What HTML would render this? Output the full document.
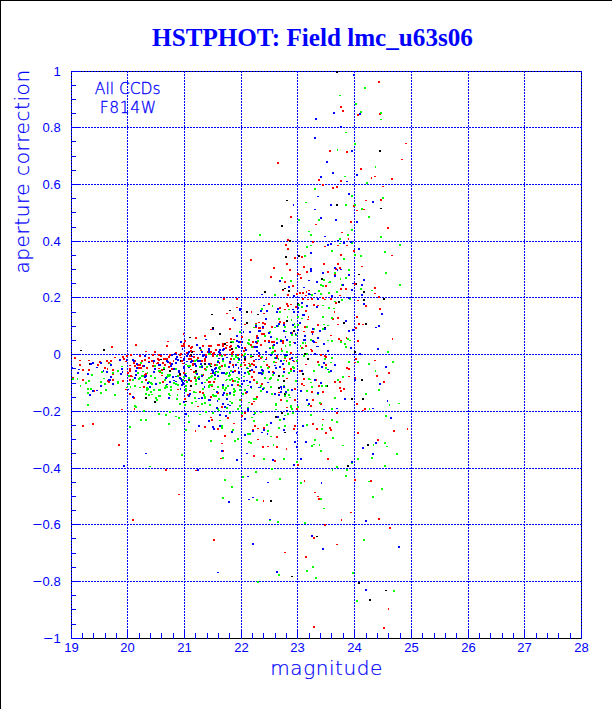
<!DOCTYPE html>
<html><head><meta charset="utf-8"><title>HSTPHOT: Field lmc_u63s06</title>
<style>
html,body{margin:0;padding:0;background:#fff;}
body{width:612px;height:709px;overflow:hidden;position:relative;}
svg{position:absolute;left:0;top:0;display:block;}
.t{font-family:"Liberation Serif",serif;font-weight:bold;fill:#0000ff;}
.s{font-family:"Liberation Sans",sans-serif;fill:#0000ff;}
.l{font-family:"DejaVu Sans Light","DejaVu Sans","Liberation Sans",sans-serif;font-weight:200;fill:#0000ff;}
.k{fill:#000}.r{fill:#f00}.g{fill:#0f0}.b{fill:#00f}
</style></head><body>
<svg width="612" height="709" viewBox="0 0 612 709">
<rect x="0" y="0" width="612" height="709" fill="#fff"/>

<g shape-rendering="crispEdges">
<rect x="0" y="0" width="612" height="1" fill="#000"/><rect x="0" y="0" width="1" height="709" fill="#000"/>
<rect x="71" y="71" width="511" height="1" fill="#000"/>
<rect x="71" y="638" width="511" height="1" fill="#000"/>
<rect x="71" y="71" width="1" height="568" fill="#000"/>
<rect x="581" y="71" width="1" height="568" fill="#000"/>
<line x1="71.5" y1="71" x2="71.5" y2="638" stroke="#00f" stroke-width="1" stroke-dasharray="2 1"/>
<line x1="127.5" y1="71" x2="127.5" y2="638" stroke="#00f" stroke-width="1" stroke-dasharray="2 1"/>
<line x1="184.5" y1="71" x2="184.5" y2="638" stroke="#00f" stroke-width="1" stroke-dasharray="2 1"/>
<line x1="241.5" y1="71" x2="241.5" y2="638" stroke="#00f" stroke-width="1" stroke-dasharray="2 1"/>
<line x1="297.5" y1="71" x2="297.5" y2="638" stroke="#00f" stroke-width="1" stroke-dasharray="2 1"/>
<line x1="354.5" y1="71" x2="354.5" y2="638" stroke="#00f" stroke-width="1" stroke-dasharray="2 1"/>
<line x1="411.5" y1="71" x2="411.5" y2="638" stroke="#00f" stroke-width="1" stroke-dasharray="2 1"/>
<line x1="468.5" y1="71" x2="468.5" y2="638" stroke="#00f" stroke-width="1" stroke-dasharray="2 1"/>
<line x1="524.5" y1="71" x2="524.5" y2="638" stroke="#00f" stroke-width="1" stroke-dasharray="2 1"/>
<line x1="581.5" y1="71" x2="581.5" y2="638" stroke="#00f" stroke-width="1" stroke-dasharray="2 1"/>
<line x1="71" y1="71.5" x2="582" y2="71.5" stroke="#00f" stroke-width="1" stroke-dasharray="2 1" stroke-dashoffset="1"/>
<line x1="71" y1="127.5" x2="582" y2="127.5" stroke="#00f" stroke-width="1" stroke-dasharray="2 1" stroke-dashoffset="1"/>
<line x1="71" y1="184.5" x2="582" y2="184.5" stroke="#00f" stroke-width="1" stroke-dasharray="2 1" stroke-dashoffset="1"/>
<line x1="71" y1="241.5" x2="582" y2="241.5" stroke="#00f" stroke-width="1" stroke-dasharray="2 1" stroke-dashoffset="1"/>
<line x1="71" y1="297.5" x2="582" y2="297.5" stroke="#00f" stroke-width="1" stroke-dasharray="2 1" stroke-dashoffset="1"/>
<line x1="71" y1="354.5" x2="582" y2="354.5" stroke="#00f" stroke-width="1" stroke-dasharray="2 1" stroke-dashoffset="1"/>
<line x1="71" y1="411.5" x2="582" y2="411.5" stroke="#00f" stroke-width="1" stroke-dasharray="2 1" stroke-dashoffset="1"/>
<line x1="71" y1="468.5" x2="582" y2="468.5" stroke="#00f" stroke-width="1" stroke-dasharray="2 1" stroke-dashoffset="1"/>
<line x1="71" y1="524.5" x2="582" y2="524.5" stroke="#00f" stroke-width="1" stroke-dasharray="2 1" stroke-dashoffset="1"/>
<line x1="71" y1="581.5" x2="582" y2="581.5" stroke="#00f" stroke-width="1" stroke-dasharray="2 1" stroke-dashoffset="1"/>
<rect x="71" y="629" width="1" height="10" fill="#00f"/>
<rect x="82" y="633" width="1" height="6" fill="#00f"/>
<rect x="93" y="633" width="1" height="6" fill="#00f"/>
<rect x="105" y="633" width="1" height="6" fill="#00f"/>
<rect x="116" y="633" width="1" height="6" fill="#00f"/>
<rect x="127" y="629" width="1" height="10" fill="#00f"/>
<rect x="139" y="633" width="1" height="6" fill="#00f"/>
<rect x="150" y="633" width="1" height="6" fill="#00f"/>
<rect x="161" y="633" width="1" height="6" fill="#00f"/>
<rect x="173" y="633" width="1" height="6" fill="#00f"/>
<rect x="184" y="629" width="1" height="10" fill="#00f"/>
<rect x="195" y="633" width="1" height="6" fill="#00f"/>
<rect x="207" y="633" width="1" height="6" fill="#00f"/>
<rect x="218" y="633" width="1" height="6" fill="#00f"/>
<rect x="229" y="633" width="1" height="6" fill="#00f"/>
<rect x="241" y="629" width="1" height="10" fill="#00f"/>
<rect x="252" y="633" width="1" height="6" fill="#00f"/>
<rect x="263" y="633" width="1" height="6" fill="#00f"/>
<rect x="275" y="633" width="1" height="6" fill="#00f"/>
<rect x="286" y="633" width="1" height="6" fill="#00f"/>
<rect x="297" y="629" width="1" height="10" fill="#00f"/>
<rect x="309" y="633" width="1" height="6" fill="#00f"/>
<rect x="320" y="633" width="1" height="6" fill="#00f"/>
<rect x="331" y="633" width="1" height="6" fill="#00f"/>
<rect x="343" y="633" width="1" height="6" fill="#00f"/>
<rect x="354" y="629" width="1" height="10" fill="#00f"/>
<rect x="366" y="633" width="1" height="6" fill="#00f"/>
<rect x="377" y="633" width="1" height="6" fill="#00f"/>
<rect x="388" y="633" width="1" height="6" fill="#00f"/>
<rect x="400" y="633" width="1" height="6" fill="#00f"/>
<rect x="411" y="629" width="1" height="10" fill="#00f"/>
<rect x="422" y="633" width="1" height="6" fill="#00f"/>
<rect x="434" y="633" width="1" height="6" fill="#00f"/>
<rect x="445" y="633" width="1" height="6" fill="#00f"/>
<rect x="456" y="633" width="1" height="6" fill="#00f"/>
<rect x="468" y="629" width="1" height="10" fill="#00f"/>
<rect x="479" y="633" width="1" height="6" fill="#00f"/>
<rect x="490" y="633" width="1" height="6" fill="#00f"/>
<rect x="502" y="633" width="1" height="6" fill="#00f"/>
<rect x="513" y="633" width="1" height="6" fill="#00f"/>
<rect x="524" y="629" width="1" height="10" fill="#00f"/>
<rect x="536" y="633" width="1" height="6" fill="#00f"/>
<rect x="547" y="633" width="1" height="6" fill="#00f"/>
<rect x="558" y="633" width="1" height="6" fill="#00f"/>
<rect x="570" y="633" width="1" height="6" fill="#00f"/>
<rect x="581" y="629" width="1" height="10" fill="#00f"/>
<rect x="71" y="71" width="10" height="1" fill="#00f"/>
<rect x="71" y="85" width="5" height="1" fill="#00f"/>
<rect x="71" y="99" width="5" height="1" fill="#00f"/>
<rect x="71" y="113" width="5" height="1" fill="#00f"/>
<rect x="71" y="127" width="10" height="1" fill="#00f"/>
<rect x="71" y="141" width="5" height="1" fill="#00f"/>
<rect x="71" y="156" width="5" height="1" fill="#00f"/>
<rect x="71" y="170" width="5" height="1" fill="#00f"/>
<rect x="71" y="184" width="10" height="1" fill="#00f"/>
<rect x="71" y="198" width="5" height="1" fill="#00f"/>
<rect x="71" y="212" width="5" height="1" fill="#00f"/>
<rect x="71" y="227" width="5" height="1" fill="#00f"/>
<rect x="71" y="241" width="10" height="1" fill="#00f"/>
<rect x="71" y="255" width="5" height="1" fill="#00f"/>
<rect x="71" y="269" width="5" height="1" fill="#00f"/>
<rect x="71" y="283" width="5" height="1" fill="#00f"/>
<rect x="71" y="297" width="10" height="1" fill="#00f"/>
<rect x="71" y="312" width="5" height="1" fill="#00f"/>
<rect x="71" y="326" width="5" height="1" fill="#00f"/>
<rect x="71" y="340" width="5" height="1" fill="#00f"/>
<rect x="71" y="354" width="10" height="1" fill="#00f"/>
<rect x="71" y="368" width="5" height="1" fill="#00f"/>
<rect x="71" y="383" width="5" height="1" fill="#00f"/>
<rect x="71" y="397" width="5" height="1" fill="#00f"/>
<rect x="71" y="411" width="10" height="1" fill="#00f"/>
<rect x="71" y="425" width="5" height="1" fill="#00f"/>
<rect x="71" y="439" width="5" height="1" fill="#00f"/>
<rect x="71" y="453" width="5" height="1" fill="#00f"/>
<rect x="71" y="468" width="10" height="1" fill="#00f"/>
<rect x="71" y="482" width="5" height="1" fill="#00f"/>
<rect x="71" y="496" width="5" height="1" fill="#00f"/>
<rect x="71" y="510" width="5" height="1" fill="#00f"/>
<rect x="71" y="524" width="10" height="1" fill="#00f"/>
<rect x="71" y="538" width="5" height="1" fill="#00f"/>
<rect x="71" y="553" width="5" height="1" fill="#00f"/>
<rect x="71" y="567" width="5" height="1" fill="#00f"/>
<rect x="71" y="581" width="10" height="1" fill="#00f"/>
<rect x="71" y="595" width="5" height="1" fill="#00f"/>
<rect x="71" y="609" width="5" height="1" fill="#00f"/>
<rect x="71" y="624" width="5" height="1" fill="#00f"/>
<rect x="71" y="638" width="10" height="1" fill="#00f"/>
</g>
<text class="t" x="312.5" y="45.5" font-size="25.15" text-anchor="middle">HSTPHOT: Field lmc_u63s06</text>
<text class="s" x="71.6" y="652.3" font-size="13" text-anchor="middle">19</text>
<text class="s" x="127.6" y="652.3" font-size="13" text-anchor="middle">20</text>
<text class="s" x="184.6" y="652.3" font-size="13" text-anchor="middle">21</text>
<text class="s" x="241.6" y="652.3" font-size="13" text-anchor="middle">22</text>
<text class="s" x="297.6" y="652.3" font-size="13" text-anchor="middle">23</text>
<text class="s" x="354.6" y="652.3" font-size="13" text-anchor="middle">24</text>
<text class="s" x="411.6" y="652.3" font-size="13" text-anchor="middle">25</text>
<text class="s" x="468.6" y="652.3" font-size="13" text-anchor="middle">26</text>
<text class="s" x="524.6" y="652.3" font-size="13" text-anchor="middle">27</text>
<text class="s" x="581.6" y="652.3" font-size="13" text-anchor="middle">28</text>
<text class="s" x="60.7" y="76.1" font-size="13" text-anchor="end">1</text>
<text class="s" x="60.7" y="132.1" font-size="13" text-anchor="end">0.8</text>
<text class="s" x="60.7" y="189.1" font-size="13" text-anchor="end">0.6</text>
<text class="s" x="60.7" y="246.1" font-size="13" text-anchor="end">0.4</text>
<text class="s" x="60.7" y="302.1" font-size="13" text-anchor="end">0.2</text>
<text class="s" x="60.7" y="359.1" font-size="13" text-anchor="end">0</text>
<text class="s" x="60.7" y="416.1" font-size="13" text-anchor="end"><tspan font-size="16.5" dy="1.1">−</tspan><tspan dy="-1.1" dx="0.6">0.2</tspan></text>
<text class="s" x="60.7" y="473.1" font-size="13" text-anchor="end"><tspan font-size="16.5" dy="1.1">−</tspan><tspan dy="-1.1" dx="0.6">0.4</tspan></text>
<text class="s" x="60.7" y="529.1" font-size="13" text-anchor="end"><tspan font-size="16.5" dy="1.1">−</tspan><tspan dy="-1.1" dx="0.6">0.6</tspan></text>
<text class="s" x="60.7" y="586.1" font-size="13" text-anchor="end"><tspan font-size="16.5" dy="1.1">−</tspan><tspan dy="-1.1" dx="0.6">0.8</tspan></text>
<text class="s" x="60.7" y="643.1" font-size="13" text-anchor="end"><tspan font-size="16.5" dy="1.1">−</tspan><tspan dy="-1.1" dx="0.6">1</tspan></text>
<text class="l" x="326.6" y="675.4" font-size="20" text-anchor="middle" letter-spacing="0.56" stroke="#00f" stroke-width="0.2">magnitude</text>
<text class="l" transform="translate(29,273.5) rotate(-90)" font-size="20" letter-spacing="0.57" stroke="#00f" stroke-width="0.2">aperture correction</text>
<text class="l" x="127.7" y="93.6" font-size="15.5" text-anchor="middle" stroke="#00f" stroke-width="0.3">All CCDs</text>
<text class="l" x="128.2" y="112.8" font-size="15.5" text-anchor="middle" letter-spacing="0.6" stroke="#00f" stroke-width="0.3">F814W</text>
<g shape-rendering="crispEdges">
<path class="k" d="M80 350h2v1h-2zM103 349h2v2h-2zM89 363h1v2h-1zM145 397h2v2h-2zM154 401h2v2h-2zM189 337h2v1h-2zM191 351h2v2h-2zM190 354h2v2h-2zM160 359h2v1h-2zM180 360h1v2h-1zM204 363h2v2h-2zM163 369h2v1h-2zM169 370h2v2h-2zM195 370h2v2h-2zM179 373h2v2h-2zM190 385h2v2h-2zM185 401h2v1h-2zM229 310h2v1h-2zM246 311h2v2h-2zM211 314h2v1h-2zM257 314h2v1h-2zM246 322h2v2h-2zM212 327h2v2h-2zM219 333h2v2h-2zM230 341h2v2h-2zM224 343h2v2h-2zM231 348h2v2h-2zM252 356h2v1h-2zM244 358h2v2h-2zM253 361h2v1h-2zM210 366h2v1h-2zM249 370h2v1h-2zM286 200h2v1h-2zM336 204h2v2h-2zM281 225h2v2h-2zM289 240h2v2h-2zM285 256h2v2h-2zM298 255h2v2h-2zM284 288h2v1h-2zM282 289h2v2h-2zM288 290h2v2h-2zM264 291h2v2h-2zM297 303h2v2h-2zM286 320h2v2h-2zM293 330h2v2h-2zM304 353h2v2h-2zM307 358h2v2h-2zM302 373h2v2h-2zM278 375h2v2h-2zM283 380h2v2h-2zM278 387h2v2h-2zM284 393h2v2h-2zM281 412h2v2h-2zM275 416h2v2h-2zM284 432h2v1h-2zM347 465h2v2h-2zM270 500h2v2h-2zM316 536h2v1h-2zM291 576h2v1h-2zM358 582h2v2h-2zM336 71h2v2h-2zM358 274h2v1h-2zM321 278h2v2h-2zM355 283h2v2h-2zM338 301h2v2h-2zM343 322h2v2h-2zM324 327h2v1h-2zM354 351h2v2h-2zM327 385h1v2h-1zM351 398h2v2h-2zM380 208h2v1h-2zM363 291h2v2h-2zM383 298h2v2h-2zM363 299h2v2h-2zM365 323h2v2h-2zM361 379h2v2h-2zM362 398h2v2h-2zM367 444h2v2h-2zM385 590h2v1h-2zM369 599h2v2h-2zM379 150h2v2h-2z"/>
<path class="r" d="M74 357h2v2h-2zM79 360h2v1h-2zM88 360h2v1h-2zM106 360h2v2h-2zM99 361h2v2h-2zM108 362h2v2h-2zM79 364h2v2h-2zM97 364h2v2h-2zM104 367h2v2h-2zM107 368h1v2h-1zM82 369h2v2h-2zM88 369h2v2h-2zM72 377h2v1h-2zM82 379h2v2h-2zM107 380h2v2h-2zM108 381h2v2h-2zM94 390h1v2h-1zM82 425h2v2h-2zM92 423h2v2h-2zM118 444h2v2h-2zM132 519h2v2h-2zM111 346h2v2h-2zM135 344h2v2h-2zM145 351h2v1h-2zM154 351h2v2h-2zM130 354h2v2h-2zM139 355h2v2h-2zM152 354h2v2h-2zM158 354h2v2h-2zM126 355h2v2h-2zM114 357h2v1h-2zM122 356h2v2h-2zM123 358h2v2h-2zM125 361h2v1h-2zM148 357h2v2h-2zM134 360h2v2h-2zM141 360h2v2h-2zM144 359h2v2h-2zM148 361h2v1h-2zM151 360h2v2h-2zM157 358h2v2h-2zM158 359h2v2h-2zM110 360h2v2h-2zM133 362h2v2h-2zM137 364h2v2h-2zM139 364h2v2h-2zM134 365h2v2h-2zM129 365h2v1h-2zM142 365h2v2h-2zM153 362h1v2h-1zM156 363h2v1h-2zM157 362h2v2h-2zM152 365h2v2h-2zM138 367h2v2h-2zM140 367h2v2h-2zM146 367h2v2h-2zM158 368h2v1h-2zM112 369h2v2h-2zM129 368h2v2h-2zM129 370h2v2h-2zM112 374h2v1h-2zM127 372h2v2h-2zM145 373h2v2h-2zM144 374h2v2h-2zM130 375h2v2h-2zM131 376h2v1h-2zM112 379h2v2h-2zM122 380h2v2h-2zM129 379h2v2h-2zM145 379h2v2h-2zM143 386h2v2h-2zM125 389h2v1h-2zM129 393h2v2h-2zM133 397h2v2h-2zM134 408h1v2h-1zM121 409h2v1h-2zM250 259h2v2h-2zM223 298h2v2h-2zM236 298h2v2h-2zM236 307h2v1h-2zM183 333h1v2h-1zM195 337h2v2h-2zM204 335h2v2h-2zM167 341h2v1h-2zM184 340h2v2h-2zM183 343h2v2h-2zM166 345h2v2h-2zM181 345h2v2h-2zM183 345h2v2h-2zM188 345h2v2h-2zM191 346h2v2h-2zM190 347h2v2h-2zM202 345h2v2h-2zM208 345h2v2h-2zM200 350h2v1h-2zM190 350h2v2h-2zM193 351h2v1h-2zM186 352h2v2h-2zM175 352h2v2h-2zM180 353h2v2h-2zM207 351h1v2h-1zM160 355h2v2h-2zM169 354h2v2h-2zM179 354h2v2h-2zM189 355h2v2h-2zM205 354h2v2h-2zM193 356h2v2h-2zM168 356h2v2h-2zM180 357h2v1h-2zM197 357h2v2h-2zM163 358h2v2h-2zM165 358h2v2h-2zM166 358h2v2h-2zM188 358h2v2h-2zM190 358h2v2h-2zM204 358h2v2h-2zM173 360h1v2h-1zM181 360h2v2h-2zM193 360h2v2h-2zM201 360h2v2h-2zM204 360h2v2h-2zM162 362h2v2h-2zM169 362h2v2h-2zM170 363h2v2h-2zM182 363h2v1h-2zM164 364h2v2h-2zM192 363h2v2h-2zM192 364h2v2h-2zM168 366h2v2h-2zM171 368h2v2h-2zM161 369h2v2h-2zM159 371h2v2h-2zM190 369h2v1h-2zM204 368h2v2h-2zM183 372h2v2h-2zM193 371h2v2h-2zM161 375h2v1h-2zM179 375h2v1h-2zM202 374h2v2h-2zM194 377h2v2h-2zM162 381h2v2h-2zM185 380h2v1h-2zM190 380h2v2h-2zM208 381h2v2h-2zM177 389h2v1h-2zM189 390h2v1h-2zM199 391h2v2h-2zM202 392h2v2h-2zM187 394h2v2h-2zM184 398h2v2h-2zM197 406h2v1h-2zM210 417h2v1h-2zM211 419h2v2h-2zM227 417h2v2h-2zM233 423h2v1h-2zM204 426h2v2h-2zM195 430h1v2h-1zM217 428h2v2h-2zM224 435h2v2h-2zM221 443h2v1h-2zM223 450h1v2h-1zM220 458h2v1h-2zM241 415h2v2h-2zM244 412h2v2h-2zM254 425h2v2h-2zM257 428h2v1h-2zM252 429h2v1h-2zM257 439h2v1h-2zM253 455h2v2h-2zM165 469h2v2h-2zM195 470h2v1h-2zM178 494h2v1h-2zM213 539h2v2h-2zM251 311h1v2h-1zM226 313h2v1h-2zM232 317h2v2h-2zM258 322h2v1h-2zM244 324h2v1h-2zM255 323h2v2h-2zM255 326h2v2h-2zM258 327h2v2h-2zM210 329h2v1h-2zM229 328h2v2h-2zM241 336h2v2h-2zM256 335h2v2h-2zM256 337h1v2h-1zM230 338h2v2h-2zM233 339h2v1h-2zM240 341h1v2h-1zM252 341h2v2h-2zM256 342h2v2h-2zM226 342h2v1h-2zM222 343h2v2h-2zM250 344h2v2h-2zM210 345h2v2h-2zM217 344h2v2h-2zM218 344h2v2h-2zM222 345h2v2h-2zM226 345h2v1h-2zM230 345h2v2h-2zM253 346h2v2h-2zM229 346h2v2h-2zM244 347h2v2h-2zM225 347h2v2h-2zM229 349h2v2h-2zM215 349h2v2h-2zM243 350h2v2h-2zM210 351h2v2h-2zM213 352h2v2h-2zM232 351h2v2h-2zM231 352h2v2h-2zM212 353h2v2h-2zM219 354h2v2h-2zM224 354h2v2h-2zM231 353h2v2h-2zM237 354h2v2h-2zM241 354h2v2h-2zM258 355h2v2h-2zM212 355h2v2h-2zM230 358h2v2h-2zM250 357h2v1h-2zM244 360h2v1h-2zM253 360h2v2h-2zM219 362h1v2h-1zM229 363h2v1h-2zM243 362h2v1h-2zM210 363h2v2h-2zM214 364h2v2h-2zM221 365h2v2h-2zM232 364h2v2h-2zM240 366h2v1h-2zM244 364h2v2h-2zM248 363h2v1h-2zM251 363h2v2h-2zM249 366h2v1h-2zM253 364h2v2h-2zM210 373h2v1h-2zM234 370h2v2h-2zM249 371h2v1h-2zM253 371h2v2h-2zM251 376h2v2h-2zM253 379h2v2h-2zM209 381h2v2h-2zM213 381h2v2h-2zM232 380h2v2h-2zM256 383h2v1h-2zM237 384h2v2h-2zM211 386h2v1h-2zM245 392h2v2h-2zM217 392h2v2h-2zM226 393h2v2h-2zM210 396h2v2h-2zM256 396h2v2h-2zM241 399h1v2h-1zM253 401h2v1h-2zM251 403h2v2h-2zM221 406h2v2h-2zM277 162h2v2h-2zM318 179h2v2h-2zM340 180h2v2h-2zM322 184h2v2h-2zM336 186h2v2h-2zM332 187h2v2h-2zM353 205h2v2h-2zM356 210h2v1h-2zM290 216h2v2h-2zM350 221h2v2h-2zM315 224h2v1h-2zM341 232h2v1h-2zM348 238h1v2h-1zM287 239h2v2h-2zM312 241h2v2h-2zM285 244h2v2h-2zM337 245h2v1h-2zM346 245h2v1h-2zM324 246h2v1h-2zM287 248h2v2h-2zM353 250h2v2h-2zM340 254h2v2h-2zM294 257h2v2h-2zM301 256h2v2h-2zM286 263h2v2h-2zM273 267h2v2h-2zM289 269h2v2h-2zM303 266h2v2h-2zM306 271h2v2h-2zM297 273h2v2h-2zM299 274h2v1h-2zM270 276h2v2h-2zM300 277h2v2h-2zM284 281h2v2h-2zM292 285h2v2h-2zM282 290h2v1h-2zM308 290h2v1h-2zM306 291h1v2h-1zM287 294h2v2h-2zM296 293h2v2h-2zM299 292h2v2h-2zM302 292h2v2h-2zM305 295h2v1h-2zM302 298h2v2h-2zM307 299h2v1h-2zM268 303h2v2h-2zM286 303h2v2h-2zM287 305h2v2h-2zM290 304h2v1h-2zM295 306h2v2h-2zM279 307h2v2h-2zM284 309h2v1h-2zM305 310h2v2h-2zM263 313h2v1h-2zM308 316h1v2h-1zM307 319h2v1h-2zM279 321h2v2h-2zM262 322h2v2h-2zM264 323h2v2h-2zM283 322h2v2h-2zM271 326h2v2h-2zM262 328h2v1h-2zM259 327h2v2h-2zM304 326h2v2h-2zM303 331h2v1h-2zM292 332h1v2h-1zM261 333h2v2h-2zM263 333h2v2h-2zM282 340h2v2h-2zM282 342h2v2h-2zM264 340h2v2h-2zM268 340h2v2h-2zM271 341h2v2h-2zM273 341h2v2h-2zM293 342h2v1h-2zM260 344h2v2h-2zM272 345h1v2h-1zM305 345h2v2h-2zM301 347h2v2h-2zM281 348h1v2h-1zM274 350h2v2h-2zM290 352h2v2h-2zM276 355h2v2h-2zM276 357h2v2h-2zM260 357h2v2h-2zM266 357h1v2h-1zM284 358h2v1h-2zM289 358h2v2h-2zM275 362h2v1h-2zM286 360h1v2h-1zM293 361h2v1h-2zM305 364h2v1h-2zM266 364h2v2h-2zM268 366h2v2h-2zM283 368h2v2h-2zM290 368h2v2h-2zM299 370h2v2h-2zM272 371h2v2h-2zM286 378h2v1h-2zM303 378h2v2h-2zM261 383h2v2h-2zM301 383h2v2h-2zM303 385h2v1h-2zM294 388h2v2h-2zM278 392h2v1h-2zM280 399h2v2h-2zM294 399h2v2h-2zM286 407h2v1h-2zM296 408h2v2h-2zM336 412h2v2h-2zM322 419h2v1h-2zM263 427h2v2h-2zM294 425h2v2h-2zM312 423h2v2h-2zM329 427h2v2h-2zM330 429h2v2h-2zM293 428h2v2h-2zM316 428h2v2h-2zM325 432h2v2h-2zM357 432h2v2h-2zM276 436h2v2h-2zM262 446h2v2h-2zM267 446h2v1h-2zM276 446h2v2h-2zM286 448h1v2h-1zM274 460h2v2h-2zM327 458h2v2h-2zM297 464h2v2h-2zM354 479h2v2h-2zM304 480h1v2h-1zM314 492h2v1h-2zM317 496h2v1h-2zM318 498h2v2h-2zM263 500h1v2h-1zM350 512h2v1h-2zM341 519h1v2h-1zM324 524h2v2h-2zM313 537h2v2h-2zM336 544h2v1h-2zM284 552h2v1h-2zM305 556h2v2h-2zM313 626h2v2h-2zM340 106h2v2h-2zM342 110h2v2h-2zM357 114h2v2h-2zM329 150h2v2h-2zM346 151h2v2h-2zM323 263h2v2h-2zM337 263h2v2h-2zM335 268h2v2h-2zM339 267h2v2h-2zM327 271h2v2h-2zM334 274h2v1h-2zM325 285h2v2h-2zM354 283h2v2h-2zM340 288h2v2h-2zM345 288h2v2h-2zM339 295h2v1h-2zM311 298h2v2h-2zM322 297h2v2h-2zM324 299h2v1h-2zM330 298h2v2h-2zM357 300h2v1h-2zM335 302h2v2h-2zM313 304h2v2h-2zM317 305h2v1h-2zM334 311h1v2h-1zM332 318h2v2h-2zM337 317h2v2h-2zM356 316h2v2h-2zM358 323h2v2h-2zM337 324h2v1h-2zM317 324h2v2h-2zM355 327h2v2h-2zM311 331h2v2h-2zM312 331h2v2h-2zM330 335h2v1h-2zM338 338h2v2h-2zM340 340h2v1h-2zM346 337h1v2h-1zM315 342h2v1h-2zM357 340h2v2h-2zM310 349h2v1h-2zM311 350h2v2h-2zM320 354h2v2h-2zM324 355h2v2h-2zM325 356h2v2h-2zM355 358h2v2h-2zM317 361h2v2h-2zM354 362h2v1h-2zM325 364h2v2h-2zM346 367h2v2h-2zM348 368h2v2h-2zM348 376h2v1h-2zM355 377h1v2h-1zM316 379h1v2h-1zM334 381h2v2h-2zM339 381h2v2h-2zM318 385h2v2h-2zM339 387h2v2h-2zM343 388h2v2h-2zM340 390h2v2h-2zM311 391h2v2h-2zM322 391h2v2h-2zM312 399h2v2h-2zM320 403h2v2h-2zM356 403h2v2h-2zM310 405h2v2h-2zM360 168h2v2h-2zM374 176h2v1h-2zM371 177h1v2h-1zM391 178h2v2h-2zM382 186h2v1h-2zM380 199h2v2h-2zM365 200h2v1h-2zM363 209h2v1h-2zM387 227h2v2h-2zM391 255h2v1h-2zM361 266h2v1h-2zM374 287h2v2h-2zM374 293h2v1h-2zM378 296h2v2h-2zM365 305h2v2h-2zM379 308h2v2h-2zM362 324h2v1h-2zM392 338h1v2h-1zM374 360h2v1h-2zM388 372h2v2h-2zM376 375h2v2h-2zM383 381h2v2h-2zM364 408h2v2h-2zM362 410h2v1h-2zM407 428h1v2h-1zM393 430h2v2h-2zM377 439h2v2h-2zM370 480h2v2h-2zM378 518h2v2h-2zM389 527h2v2h-2zM388 608h1v2h-1zM383 627h2v2h-2zM378 81h2v2h-2zM379 113h2v2h-2zM405 143h2v1h-2zM401 159h2v1h-2z"/>
<path class="g" d="M101 371h2v2h-2zM91 374h2v2h-2zM72 378h2v2h-2zM77 378h1v2h-1zM103 378h2v1h-2zM88 380h2v2h-2zM100 381h2v2h-2zM85 382h2v2h-2zM104 383h2v2h-2zM80 385h1v2h-1zM87 388h2v2h-2zM90 388h2v2h-2zM105 389h2v2h-2zM87 392h2v2h-2zM100 392h2v2h-2zM87 404h2v2h-2zM149 466h2v1h-2zM109 363h2v1h-2zM140 362h2v2h-2zM154 365h2v2h-2zM121 366h2v1h-2zM117 370h2v2h-2zM142 371h2v1h-2zM158 370h2v2h-2zM112 372h2v2h-2zM137 372h2v2h-2zM147 372h1v2h-1zM128 375h2v2h-2zM141 375h2v2h-2zM142 375h2v2h-2zM150 375h2v2h-2zM139 377h2v2h-2zM154 377h2v2h-2zM132 379h2v2h-2zM138 378h2v2h-2zM117 381h2v2h-2zM117 382h2v2h-2zM141 381h2v2h-2zM148 381h2v2h-2zM150 382h2v2h-2zM151 383h2v2h-2zM128 383h2v2h-2zM134 385h2v2h-2zM130 386h1v2h-1zM126 387h2v1h-2zM139 387h2v1h-2zM146 387h2v2h-2zM147 388h2v2h-2zM146 389h2v2h-2zM153 389h2v2h-2zM158 389h2v2h-2zM150 391h2v2h-2zM145 393h2v2h-2zM148 394h2v2h-2zM151 394h2v1h-2zM114 394h2v2h-2zM155 397h2v2h-2zM156 399h2v2h-2zM158 395h2v2h-2zM134 405h2v2h-2zM135 406h2v2h-2zM143 410h2v2h-2zM158 413h2v2h-2zM140 419h2v2h-2zM145 419h2v2h-2zM129 426h2v2h-2zM200 349h2v1h-2zM208 353h2v2h-2zM194 360h2v2h-2zM196 359h2v2h-2zM185 364h2v1h-2zM187 365h2v2h-2zM189 365h2v2h-2zM201 365h2v2h-2zM199 366h2v2h-2zM206 366h2v2h-2zM163 367h2v2h-2zM175 368h2v2h-2zM159 370h2v2h-2zM205 369h2v2h-2zM185 373h2v1h-2zM195 372h2v2h-2zM161 372h2v2h-2zM177 375h2v2h-2zM201 374h2v2h-2zM167 374h2v2h-2zM169 374h2v2h-2zM168 375h2v2h-2zM183 376h2v2h-2zM166 376h2v2h-2zM164 379h2v2h-2zM188 377h2v2h-2zM194 376h2v1h-2zM198 376h2v2h-2zM197 377h2v2h-2zM208 377h2v2h-2zM206 379h2v2h-2zM195 379h2v2h-2zM195 380h2v2h-2zM182 379h2v2h-2zM186 381h2v2h-2zM204 382h2v1h-2zM159 382h2v2h-2zM173 382h2v2h-2zM175 383h2v2h-2zM177 384h2v2h-2zM195 383h2v2h-2zM165 385h2v2h-2zM164 387h2v2h-2zM166 386h2v2h-2zM170 386h2v2h-2zM185 385h2v2h-2zM208 385h2v2h-2zM208 387h2v1h-2zM159 389h2v2h-2zM170 389h2v2h-2zM185 388h2v2h-2zM185 390h2v2h-2zM202 388h2v2h-2zM193 391h2v2h-2zM195 392h2v1h-2zM168 393h2v2h-2zM169 395h2v1h-2zM177 394h1v2h-1zM159 395h2v2h-2zM203 394h2v2h-2zM204 396h2v2h-2zM204 397h2v2h-2zM194 397h2v2h-2zM176 398h2v2h-2zM195 401h2v1h-2zM191 402h2v2h-2zM179 403h2v2h-2zM201 403h2v2h-2zM204 402h2v2h-2zM184 404h2v2h-2zM169 411h2v2h-2zM165 414h2v2h-2zM175 416h2v1h-2zM178 417h2v2h-2zM168 423h2v2h-2zM188 415h1v2h-1zM188 421h2v2h-2zM185 429h2v2h-2zM199 414h2v1h-2zM205 411h2v2h-2zM212 412h2v2h-2zM218 410h2v1h-2zM219 420h2v1h-2zM229 412h2v2h-2zM221 425h2v2h-2zM221 427h2v2h-2zM232 429h2v2h-2zM210 440h2v2h-2zM237 438h2v2h-2zM234 440h2v2h-2zM222 457h2v2h-2zM181 454h2v2h-2zM241 412h2v2h-2zM254 412h2v2h-2zM251 417h2v1h-2zM253 420h2v2h-2zM247 433h2v2h-2zM249 433h2v2h-2zM248 441h2v2h-2zM250 442h2v2h-2zM255 471h2v2h-2zM242 476h2v2h-2zM224 479h2v2h-2zM231 486h2v2h-2zM222 497h2v2h-2zM256 499h2v2h-2zM257 581h2v2h-2zM255 324h2v2h-2zM253 327h2v1h-2zM239 331h2v2h-2zM248 339h2v2h-2zM230 341h2v1h-2zM232 341h2v2h-2zM257 340h2v2h-2zM247 342h2v2h-2zM248 343h2v2h-2zM251 346h2v2h-2zM235 347h2v2h-2zM209 353h2v2h-2zM216 355h2v2h-2zM221 355h2v2h-2zM231 355h2v2h-2zM235 355h2v2h-2zM235 356h2v2h-2zM237 357h2v2h-2zM244 353h2v2h-2zM243 355h2v2h-2zM250 355h2v2h-2zM233 358h2v2h-2zM217 360h2v1h-2zM222 360h2v2h-2zM238 360h2v1h-2zM237 362h2v1h-2zM209 364h2v2h-2zM216 364h2v2h-2zM224 364h2v2h-2zM219 366h2v2h-2zM224 365h2v2h-2zM240 364h2v2h-2zM249 364h2v2h-2zM218 367h2v2h-2zM219 369h2v1h-2zM246 367h2v2h-2zM230 370h2v2h-2zM247 371h2v2h-2zM217 371h2v2h-2zM214 372h2v2h-2zM226 372h2v2h-2zM225 373h2v2h-2zM229 374h2v2h-2zM228 375h2v2h-2zM211 375h2v2h-2zM210 376h2v2h-2zM248 373h2v2h-2zM243 376h2v1h-2zM236 377h2v1h-2zM238 378h2v2h-2zM214 378h2v2h-2zM231 378h2v2h-2zM229 379h2v2h-2zM226 379h2v1h-2zM225 380h2v1h-2zM234 380h2v2h-2zM237 381h2v2h-2zM256 381h2v2h-2zM239 385h2v2h-2zM209 384h2v2h-2zM211 384h2v2h-2zM222 386h2v2h-2zM222 387h2v2h-2zM217 386h2v2h-2zM227 385h2v2h-2zM225 387h2v2h-2zM224 389h2v2h-2zM247 385h2v1h-2zM251 387h1v2h-1zM213 389h2v1h-2zM233 388h2v2h-2zM234 390h2v2h-2zM233 391h2v2h-2zM239 389h2v2h-2zM244 389h2v2h-2zM226 394h2v2h-2zM229 394h2v1h-2zM233 394h2v2h-2zM242 393h2v2h-2zM212 394h2v2h-2zM213 395h2v2h-2zM215 395h2v2h-2zM253 398h2v2h-2zM255 398h2v2h-2zM218 398h2v2h-2zM239 399h2v2h-2zM229 401h2v1h-2zM231 402h2v2h-2zM248 402h2v1h-2zM209 404h2v2h-2zM239 405h2v2h-2zM226 407h2v2h-2zM217 408h2v2h-2zM237 408h2v2h-2zM247 407h2v2h-2zM344 176h2v1h-2zM314 188h2v2h-2zM351 195h2v2h-2zM305 202h2v1h-2zM345 204h2v2h-2zM354 204h2v2h-2zM298 219h2v2h-2zM318 219h2v2h-2zM351 229h2v2h-2zM308 231h2v1h-2zM259 234h2v2h-2zM310 234h2v2h-2zM347 234h2v2h-2zM339 238h2v2h-2zM339 243h2v1h-2zM351 242h2v2h-2zM310 245h2v1h-2zM306 246h2v2h-2zM331 250h2v2h-2zM354 254h2v2h-2zM304 255h2v2h-2zM343 258h2v2h-2zM281 277h2v2h-2zM290 280h2v2h-2zM274 294h2v2h-2zM272 305h1v2h-1zM298 304h2v2h-2zM301 306h2v2h-2zM261 308h2v2h-2zM288 309h2v1h-2zM279 311h2v2h-2zM287 316h1v2h-1zM278 318h2v2h-2zM301 318h2v1h-2zM291 319h1v2h-1zM297 316h2v2h-2zM294 323h1v2h-1zM297 324h2v2h-2zM274 327h2v1h-2zM277 325h2v2h-2zM284 326h2v2h-2zM294 326h2v2h-2zM306 326h2v2h-2zM285 331h2v1h-2zM269 331h2v2h-2zM291 334h2v2h-2zM295 334h2v2h-2zM264 335h2v2h-2zM276 338h2v2h-2zM280 339h2v2h-2zM289 341h2v2h-2zM289 344h2v2h-2zM302 342h2v2h-2zM305 342h1v2h-1zM272 346h2v2h-2zM272 347h2v2h-2zM269 347h2v1h-2zM285 345h1v2h-1zM300 345h1v2h-1zM302 348h2v1h-2zM281 350h2v2h-2zM272 351h2v2h-2zM271 352h2v2h-2zM286 351h2v2h-2zM306 353h2v2h-2zM303 355h2v2h-2zM261 356h2v2h-2zM274 357h2v2h-2zM278 358h1v2h-1zM284 356h2v2h-2zM285 356h2v1h-2zM295 357h2v1h-2zM263 361h2v1h-2zM273 361h2v2h-2zM283 360h2v1h-2zM296 360h2v2h-2zM288 362h2v2h-2zM288 363h2v2h-2zM260 366h2v2h-2zM267 367h2v2h-2zM292 366h2v2h-2zM293 367h2v2h-2zM290 370h2v2h-2zM288 372h2v2h-2zM293 370h2v1h-2zM262 372h2v2h-2zM272 374h2v2h-2zM282 375h2v2h-2zM264 377h2v2h-2zM270 377h2v2h-2zM269 378h2v2h-2zM308 378h2v2h-2zM277 379h2v2h-2zM295 380h2v2h-2zM260 385h2v2h-2zM270 386h2v2h-2zM283 385h2v1h-2zM263 387h2v2h-2zM287 389h2v2h-2zM260 390h2v2h-2zM285 392h2v2h-2zM306 390h2v2h-2zM271 393h2v2h-2zM284 395h2v2h-2zM288 394h2v2h-2zM289 397h2v1h-2zM286 400h2v2h-2zM275 403h2v2h-2zM275 404h2v2h-2zM307 405h2v1h-2zM290 405h2v2h-2zM290 406h2v2h-2zM297 406h2v2h-2zM275 409h2v1h-2zM291 408h2v2h-2zM260 411h2v2h-2zM287 413h2v2h-2zM292 412h2v2h-2zM310 414h2v2h-2zM284 415h2v1h-2zM279 419h2v2h-2zM266 424h2v2h-2zM331 419h2v2h-2zM336 421h2v2h-2zM278 427h2v2h-2zM284 425h2v2h-2zM306 424h2v2h-2zM322 424h1v2h-1zM267 430h2v2h-2zM321 428h2v2h-2zM270 436h2v1h-2zM332 437h2v2h-2zM314 439h2v2h-2zM273 444h1v2h-1zM313 444h2v1h-2zM311 445h2v2h-2zM319 444h1v2h-1zM342 445h2v1h-2zM320 450h2v2h-2zM263 458h2v2h-2zM283 458h2v2h-2zM357 458h2v2h-2zM296 461h2v2h-2zM351 463h2v1h-2zM336 466h2v2h-2zM271 468h2v2h-2zM332 469h1v2h-1zM346 469h2v2h-2zM345 475h2v2h-2zM279 478h2v2h-2zM300 482h2v2h-2zM320 498h2v2h-2zM323 508h2v1h-2zM269 520h2v1h-2zM277 521h2v2h-2zM304 522h2v2h-2zM312 566h2v2h-2zM306 570h2v2h-2zM278 574h2v2h-2zM315 577h2v2h-2zM352 572h2v2h-2zM356 600h2v2h-2zM339 95h2v1h-2zM355 103h2v2h-2zM345 132h2v1h-2zM354 143h2v2h-2zM337 149h1v2h-1zM348 269h2v2h-2zM334 272h2v2h-2zM323 279h2v2h-2zM340 278h1v2h-1zM345 277h2v2h-2zM329 281h2v2h-2zM328 282h2v1h-2zM320 284h2v2h-2zM322 285h2v2h-2zM341 284h2v2h-2zM318 290h2v2h-2zM320 293h2v2h-2zM328 292h2v2h-2zM336 291h2v2h-2zM311 294h2v2h-2zM341 299h2v2h-2zM349 298h2v2h-2zM334 301h2v1h-2zM322 305h2v1h-2zM328 307h2v2h-2zM333 308h2v1h-2zM322 316h2v2h-2zM331 317h2v2h-2zM323 324h2v1h-2zM327 325h2v1h-2zM322 328h2v2h-2zM314 328h1v2h-1zM347 338h2v2h-2zM349 340h2v1h-2zM310 339h2v2h-2zM327 340h2v1h-2zM331 340h2v2h-2zM340 341h2v2h-2zM344 343h2v2h-2zM345 346h2v2h-2zM324 358h2v2h-2zM331 357h2v2h-2zM330 362h2v1h-2zM348 361h2v2h-2zM357 361h2v2h-2zM318 364h2v2h-2zM325 367h2v2h-2zM328 371h2v2h-2zM313 370h2v2h-2zM342 376h2v2h-2zM309 379h2v1h-2zM337 379h2v2h-2zM310 382h2v1h-2zM311 386h2v2h-2zM321 385h2v2h-2zM325 385h2v2h-2zM317 393h2v2h-2zM334 397h2v2h-2zM319 402h2v2h-2zM331 408h2v2h-2zM375 166h1v2h-1zM366 182h2v2h-2zM382 197h2v2h-2zM361 208h2v2h-2zM368 216h2v2h-2zM380 236h2v2h-2zM399 244h2v2h-2zM384 251h2v2h-2zM360 255h2v2h-2zM385 272h2v2h-2zM399 284h2v2h-2zM360 288h2v2h-2zM371 290h2v1h-2zM387 351h2v2h-2zM368 363h2v2h-2zM392 361h2v2h-2zM375 370h1v2h-1zM378 389h2v2h-2zM365 393h2v2h-2zM389 404h1v2h-1zM398 403h2v1h-2zM369 408h1v2h-1zM385 415h2v2h-2zM373 444h1v2h-1zM384 442h2v2h-2zM386 446h2v1h-2zM396 453h2v2h-2zM371 457h2v2h-2zM384 465h2v2h-2zM368 481h2v1h-2zM381 488h2v2h-2zM372 496h2v2h-2zM363 539h2v2h-2zM393 590h2v2h-2zM364 87h2v2h-2zM360 111h2v2h-2zM380 112h2v2h-2zM380 119h2v1h-2z"/>
<path class="b" d="M100 362h2v2h-2zM92 362h2v2h-2zM90 363h2v2h-2zM96 367h2v1h-2zM71 367h2v2h-2zM78 369h2v1h-2zM103 370h1v2h-1zM106 371h2v2h-2zM77 372h2v2h-2zM87 373h2v2h-2zM108 379h2v2h-2zM100 385h2v2h-2zM92 390h2v2h-2zM96 390h2v1h-2zM89 394h2v2h-2zM145 453h2v1h-2zM123 465h2v2h-2zM144 355h2v2h-2zM119 359h2v2h-2zM126 359h2v2h-2zM132 359h2v2h-2zM133 360h2v2h-2zM148 362h2v1h-2zM153 360h2v2h-2zM110 364h2v2h-2zM136 363h2v2h-2zM143 365h2v2h-2zM158 364h2v2h-2zM121 368h2v2h-2zM136 367h2v2h-2zM154 368h2v2h-2zM135 370h2v2h-2zM122 371h1v2h-1zM120 373h2v2h-2zM153 371h2v2h-2zM135 374h2v2h-2zM144 376h2v2h-2zM145 375h2v2h-2zM110 376h2v2h-2zM134 377h2v2h-2zM109 379h2v2h-2zM147 382h2v2h-2zM112 383h2v2h-2zM155 383h2v2h-2zM149 386h2v2h-2zM127 389h2v1h-2zM132 396h2v2h-2zM239 308h2v2h-2zM205 339h2v1h-2zM180 341h2v2h-2zM196 344h2v2h-2zM182 348h1v2h-1zM199 347h2v2h-2zM208 348h2v2h-2zM208 349h2v2h-2zM188 351h2v2h-2zM201 351h2v2h-2zM208 351h2v2h-2zM171 354h2v2h-2zM174 353h2v2h-2zM186 355h2v2h-2zM187 353h2v2h-2zM203 354h2v2h-2zM202 355h2v2h-2zM191 356h2v1h-2zM205 356h2v2h-2zM176 356h2v2h-2zM175 358h2v2h-2zM183 358h2v2h-2zM166 360h2v2h-2zM167 361h2v2h-2zM177 359h2v2h-2zM183 359h2v2h-2zM186 361h2v1h-2zM190 361h2v2h-2zM191 360h2v2h-2zM197 360h2v2h-2zM199 360h2v2h-2zM175 362h2v2h-2zM184 362h1v2h-1zM171 363h2v2h-2zM170 365h2v2h-2zM159 364h2v2h-2zM194 363h2v2h-2zM195 365h2v2h-2zM200 363h2v2h-2zM208 363h2v2h-2zM201 366h2v2h-2zM183 366h2v2h-2zM183 367h2v2h-2zM188 367h2v1h-2zM173 368h2v2h-2zM178 370h2v2h-2zM178 371h2v2h-2zM184 370h1v2h-1zM196 373h2v2h-2zM201 375h2v2h-2zM184 374h2v2h-2zM185 375h2v2h-2zM172 376h2v2h-2zM175 376h2v1h-2zM165 377h2v2h-2zM179 377h2v2h-2zM180 378h2v2h-2zM188 379h2v2h-2zM198 378h2v2h-2zM169 381h2v2h-2zM173 380h2v1h-2zM175 381h2v1h-2zM181 380h2v2h-2zM182 382h2v2h-2zM201 382h2v2h-2zM166 384h2v1h-2zM181 384h2v2h-2zM183 383h2v2h-2zM204 386h1v2h-1zM180 388h1v2h-1zM184 389h1v2h-1zM189 393h2v2h-2zM188 395h2v2h-2zM184 392h1v2h-1zM184 395h1v2h-1zM168 397h2v2h-2zM198 398h2v1h-2zM201 397h2v2h-2zM208 399h2v2h-2zM183 401h2v2h-2zM184 407h1v2h-1zM185 413h2v2h-2zM219 414h2v2h-2zM208 420h2v2h-2zM225 415h2v2h-2zM198 425h2v2h-2zM212 426h2v2h-2zM213 428h2v2h-2zM219 425h2v2h-2zM231 431h2v2h-2zM221 450h2v2h-2zM236 459h2v2h-2zM247 410h2v2h-2zM253 414h2v1h-2zM244 418h2v2h-2zM252 430h2v2h-2zM244 434h2v2h-2zM246 453h2v1h-2zM197 469h2v2h-2zM247 476h2v1h-2zM228 501h2v2h-2zM248 499h2v1h-2zM252 497h2v1h-2zM252 543h2v2h-2zM217 572h2v1h-2zM239 310h2v1h-2zM234 319h2v2h-2zM255 325h2v2h-2zM212 329h2v1h-2zM258 330h2v2h-2zM243 331h1v2h-1zM249 331h2v2h-2zM236 335h2v2h-2zM257 337h2v2h-2zM236 340h2v2h-2zM238 341h2v2h-2zM241 341h2v2h-2zM255 341h2v2h-2zM237 345h2v2h-2zM238 346h2v2h-2zM254 346h2v2h-2zM256 346h2v2h-2zM241 347h2v2h-2zM223 348h2v2h-2zM222 349h2v2h-2zM219 349h2v2h-2zM245 349h2v2h-2zM256 350h2v2h-2zM218 351h2v2h-2zM219 352h2v2h-2zM258 352h2v2h-2zM226 357h2v1h-2zM222 358h2v2h-2zM218 358h2v1h-2zM238 358h2v2h-2zM244 356h2v2h-2zM258 359h2v1h-2zM255 359h2v1h-2zM217 361h2v2h-2zM229 361h2v2h-2zM235 364h2v2h-2zM228 366h2v2h-2zM233 366h1v2h-1zM238 367h1v2h-1zM255 366h2v2h-2zM215 367h2v2h-2zM214 368h2v2h-2zM247 368h2v1h-2zM211 369h2v2h-2zM212 370h2v2h-2zM212 372h2v2h-2zM232 371h2v2h-2zM238 371h2v2h-2zM238 372h2v2h-2zM251 369h2v2h-2zM244 372h2v2h-2zM258 372h2v2h-2zM215 371h2v1h-2zM221 372h2v2h-2zM223 372h2v2h-2zM229 372h1v2h-1zM214 374h2v2h-2zM217 375h2v2h-2zM243 380h2v2h-2zM246 380h2v1h-2zM249 381h2v2h-2zM241 383h2v2h-2zM231 384h2v2h-2zM222 384h2v2h-2zM250 386h2v2h-2zM258 387h2v1h-2zM246 391h2v2h-2zM216 391h2v2h-2zM223 392h2v2h-2zM222 394h2v2h-2zM229 392h2v2h-2zM209 399h2v2h-2zM217 400h1v2h-1zM226 398h2v2h-2zM222 403h2v2h-2zM227 404h2v1h-2zM229 405h2v1h-2zM224 406h2v2h-2zM216 407h2v2h-2zM247 408h2v2h-2zM326 161h2v2h-2zM332 172h2v2h-2zM356 174h2v2h-2zM320 176h2v2h-2zM346 181h2v1h-2zM348 193h2v2h-2zM317 196h2v1h-2zM293 204h1v2h-1zM330 204h2v2h-2zM314 209h2v1h-2zM320 217h2v2h-2zM335 219h2v2h-2zM356 221h2v2h-2zM324 236h2v1h-2zM337 240h2v2h-2zM343 242h2v2h-2zM350 241h2v2h-2zM327 244h2v2h-2zM330 243h2v2h-2zM358 248h2v2h-2zM310 252h2v2h-2zM279 280h2v2h-2zM308 280h2v1h-2zM288 286h2v2h-2zM303 287h2v1h-2zM261 294h2v1h-2zM293 295h2v2h-2zM308 293h2v2h-2zM263 305h2v1h-2zM301 302h2v2h-2zM306 305h2v2h-2zM297 307h2v2h-2zM277 308h2v2h-2zM292 309h2v1h-2zM260 310h2v2h-2zM266 310h2v2h-2zM276 311h2v2h-2zM293 311h2v2h-2zM297 311h2v2h-2zM302 314h2v2h-2zM303 314h2v2h-2zM265 318h2v2h-2zM283 324h2v2h-2zM278 323h2v2h-2zM276 325h2v2h-2zM299 322h2v2h-2zM292 324h2v2h-2zM262 326h2v2h-2zM297 329h2v2h-2zM259 330h2v2h-2zM283 330h2v2h-2zM268 332h2v2h-2zM290 332h2v2h-2zM295 333h1v2h-1zM270 336h2v2h-2zM285 336h1v2h-1zM304 335h2v2h-2zM280 340h2v2h-2zM286 339h2v2h-2zM303 339h2v2h-2zM304 339h2v2h-2zM268 342h2v1h-2zM276 342h2v2h-2zM294 342h2v2h-2zM273 344h2v2h-2zM269 348h2v1h-2zM265 351h2v2h-2zM270 354h2v2h-2zM284 354h2v2h-2zM286 354h2v2h-2zM275 357h2v2h-2zM291 357h2v2h-2zM297 356h1v2h-1zM265 359h2v1h-2zM280 360h2v2h-2zM292 360h2v1h-2zM282 363h2v2h-2zM274 365h2v1h-2zM275 367h2v2h-2zM279 366h2v2h-2zM261 369h2v2h-2zM262 370h2v2h-2zM301 370h2v2h-2zM268 371h2v2h-2zM273 372h2v2h-2zM283 371h2v2h-2zM293 370h2v2h-2zM260 372h2v2h-2zM261 373h2v2h-2zM267 382h2v1h-2zM259 387h2v1h-2zM283 386h2v2h-2zM280 386h2v2h-2zM281 388h1v2h-1zM262 388h2v2h-2zM291 389h2v2h-2zM266 391h2v2h-2zM280 391h2v2h-2zM285 391h2v2h-2zM300 390h2v2h-2zM274 393h2v2h-2zM278 394h2v2h-2zM306 399h2v2h-2zM308 403h2v2h-2zM286 410h2v1h-2zM277 416h2v2h-2zM283 418h2v2h-2zM270 422h2v2h-2zM263 429h2v2h-2zM302 425h2v2h-2zM283 429h2v2h-2zM261 432h2v1h-2zM267 433h1v2h-1zM296 432h1v2h-1zM294 441h2v2h-2zM305 441h2v2h-2zM296 446h2v2h-2zM272 459h2v2h-2zM300 458h2v2h-2zM293 464h2v2h-2zM351 461h2v2h-2zM267 482h2v1h-2zM321 482h1v2h-1zM269 519h2v1h-2zM311 535h2v2h-2zM322 548h2v2h-2zM276 571h2v2h-2zM353 74h2v2h-2zM333 112h2v2h-2zM359 113h2v2h-2zM315 118h2v2h-2zM340 126h2v2h-2zM314 137h2v2h-2zM351 150h2v2h-2zM310 268h2v2h-2zM310 270h2v2h-2zM334 267h2v2h-2zM337 269h1v2h-1zM340 269h2v1h-2zM322 272h2v2h-2zM334 275h2v2h-2zM348 274h2v2h-2zM316 281h2v2h-2zM342 284h2v2h-2zM352 283h2v1h-2zM351 289h2v2h-2zM314 293h2v1h-2zM309 294h2v1h-2zM331 295h2v2h-2zM317 298h2v2h-2zM348 297h2v2h-2zM316 306h2v2h-2zM345 320h2v2h-2zM324 328h2v2h-2zM312 328h2v2h-2zM319 330h2v2h-2zM352 329h2v2h-2zM353 329h2v2h-2zM348 330h2v2h-2zM312 333h1v2h-1zM317 337h2v2h-2zM312 340h2v2h-2zM313 341h2v2h-2zM323 343h2v2h-2zM316 346h2v1h-2zM317 346h2v1h-2zM350 347h2v2h-2zM327 350h2v2h-2zM314 353h2v2h-2zM323 362h2v2h-2zM334 364h2v2h-2zM321 366h2v2h-2zM327 369h2v1h-2zM330 370h2v2h-2zM354 379h2v2h-2zM314 379h2v2h-2zM320 382h2v2h-2zM317 392h2v2h-2zM344 398h2v2h-2zM323 409h2v1h-2zM336 408h2v1h-2zM372 201h2v2h-2zM363 279h2v2h-2zM361 284h2v2h-2zM361 294h2v2h-2zM363 303h2v2h-2zM381 313h2v2h-2zM378 325h2v2h-2zM375 327h2v1h-2zM377 348h2v2h-2zM359 353h2v2h-2zM385 366h2v2h-2zM379 383h2v2h-2zM387 400h1v2h-1zM372 408h2v1h-2zM390 417h2v2h-2zM375 442h2v2h-2zM362 447h2v2h-2zM372 453h2v2h-2zM365 520h2v2h-2zM398 546h2v2h-2zM365 589h2v2h-2z"/>
</g>
</svg></body></html>
